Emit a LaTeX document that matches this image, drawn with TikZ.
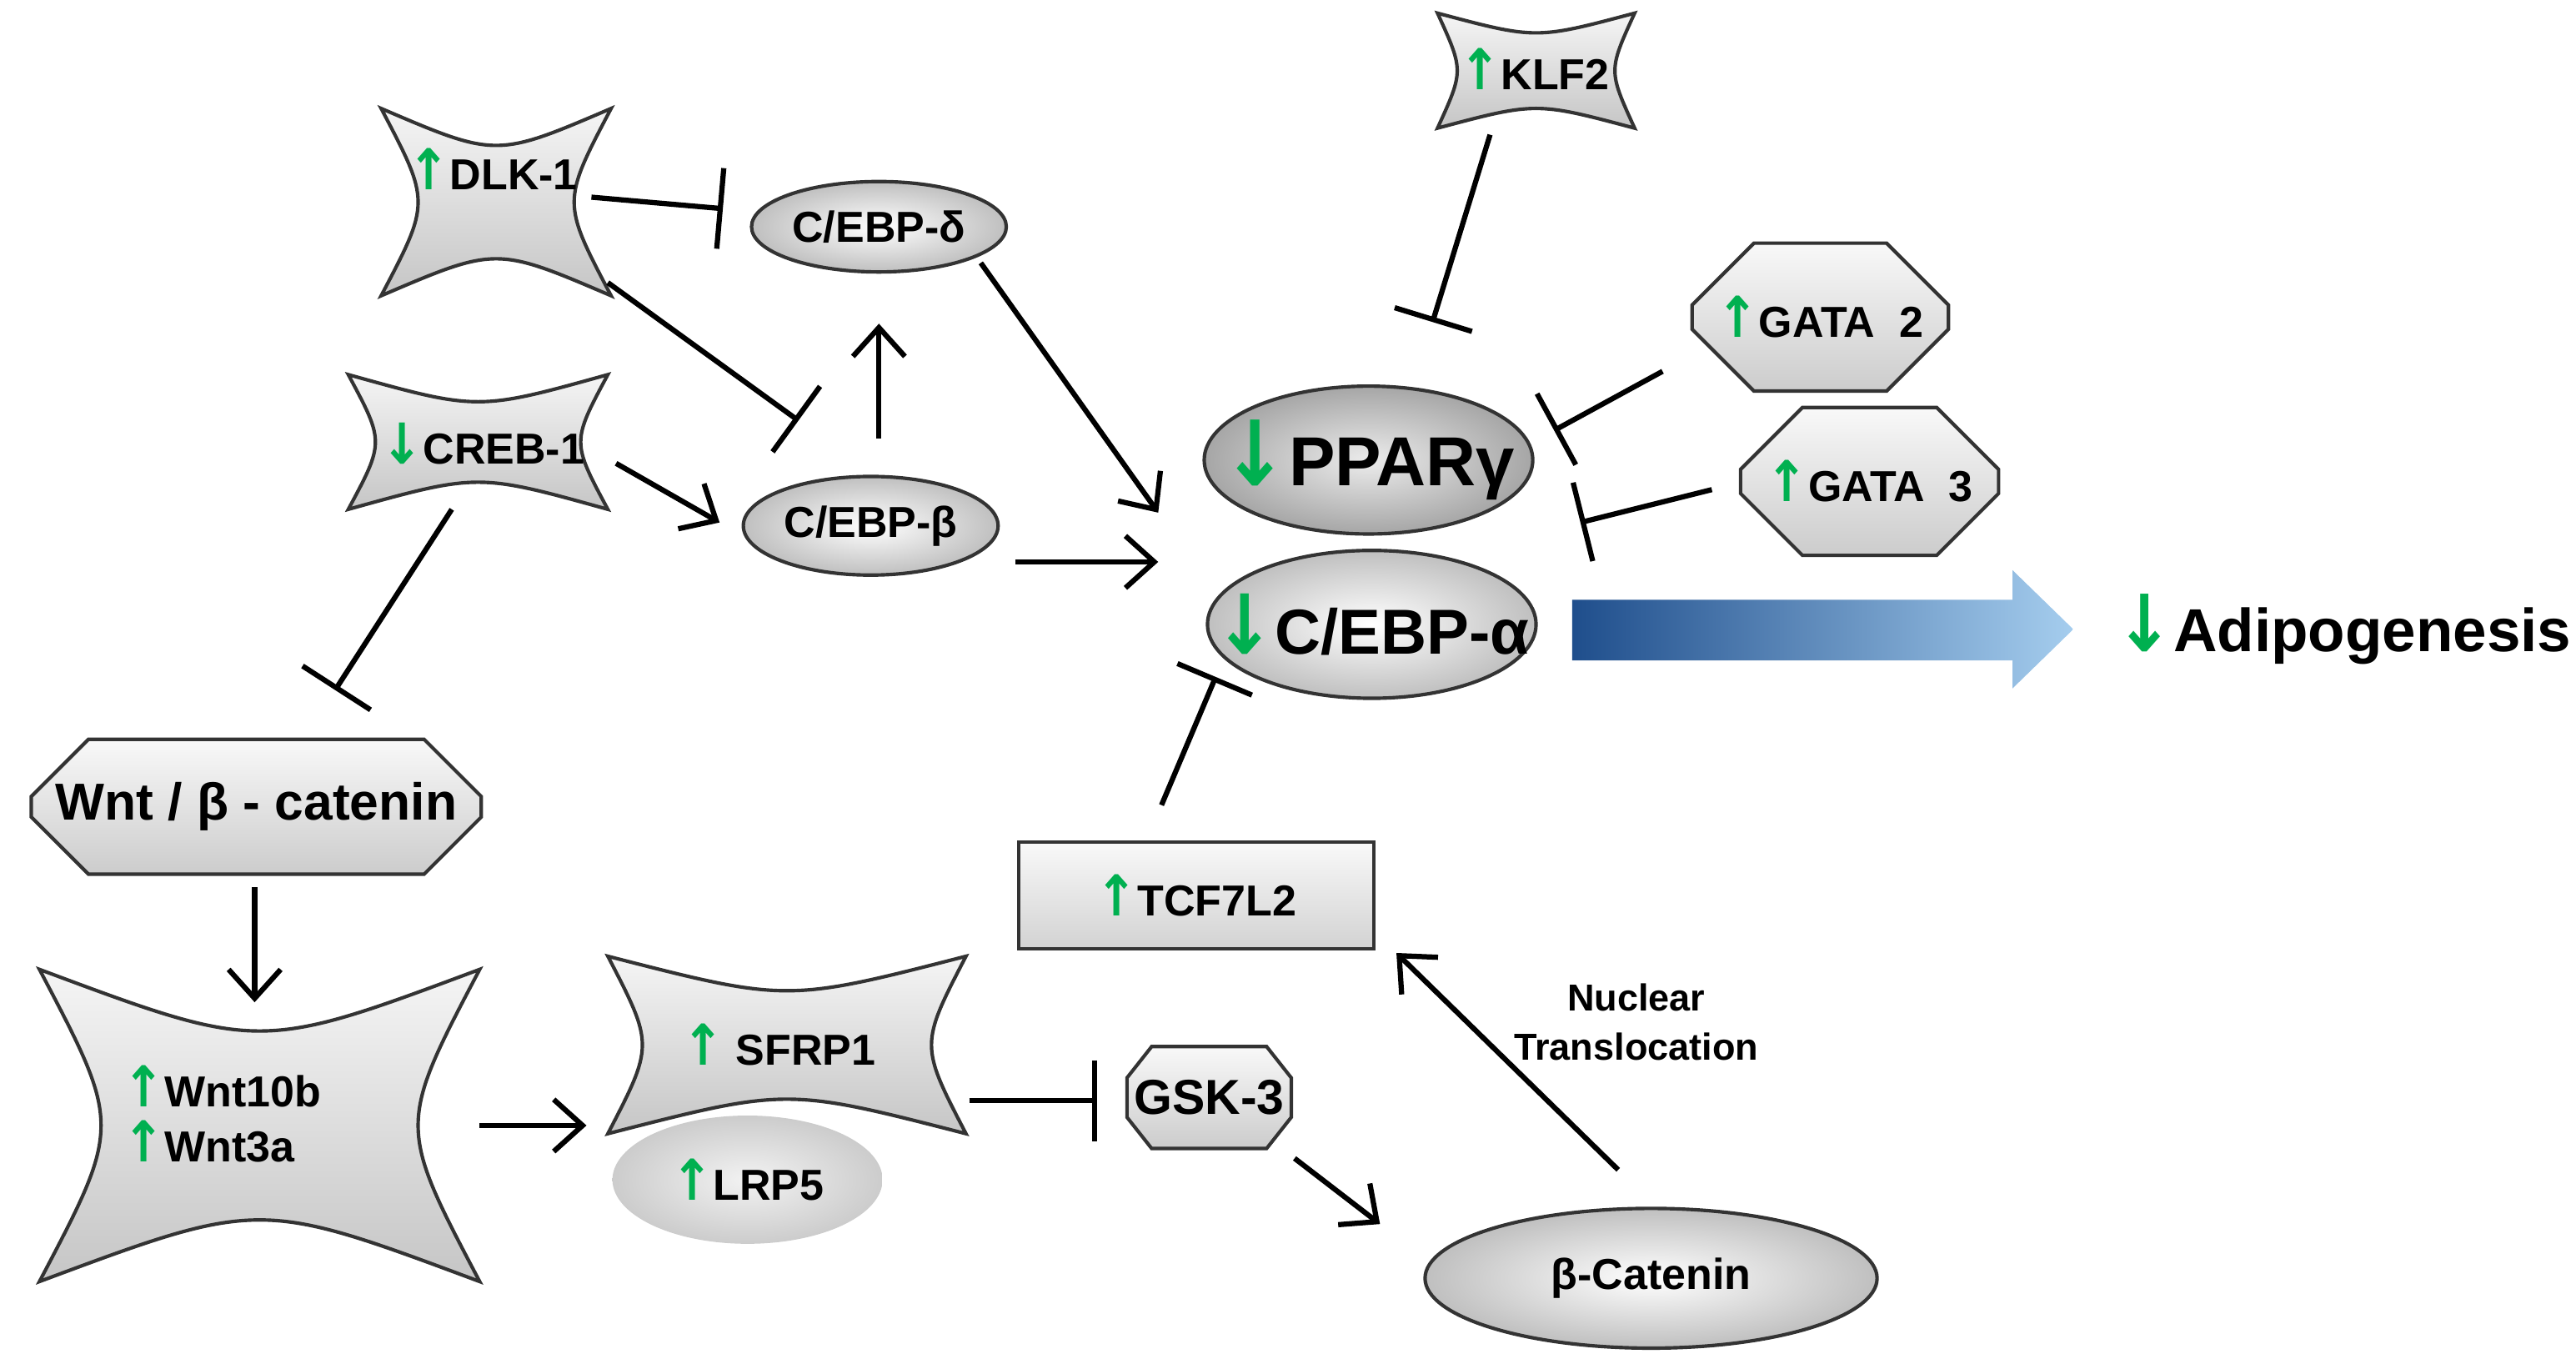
\documentclass[tikz,border=0pt]{standalone}
\usepackage{fontspec}
\setmainfont{Liberation Sans}
\newfontfamily\arrf{DejaVu Sans}
\usetikzlibrary{shapes.geometric,shapes.misc,arrows.meta}
\definecolor{grn}{RGB}{0,176,80}
\definecolor{dblue}{RGB}{31,78,140}
\definecolor{lblue}{RGB}{165,205,238}
\newcommand\up{{\color{grn}\arrf\scalebox{1.15}[1.3]{\char"2191}}}
\newcommand\dn{{\color{grn}\arrf\scalebox{1.15}[1.3]{\char"2193}}}
\newcommand\fs[1]{\fontsize{#1}{#1}\selectfont}
\newcommand\concshape[5]{%
 \draw[conc] (#1,#2) .. controls ({(#1+#3)/2},{#2+#5}) .. (#3,#2)
  .. controls ({#3-#5},{(#2+#4)/2}) .. (#3,#4)
  .. controls ({(#1+#3)/2},{#4-#5}) .. (#1,#4)
  .. controls ({#1+#5},{(#2+#4)/2}) .. cycle;}
\tikzset{
 box/.style={draw=black!80, line width=0.6pt},
 conc/.style={box, top color=gray!8, bottom color=gray!45},
 ell/.style={ellipse, box, inner color=white, outer color=gray!50, inner sep=0pt},
 oct/.style={chamfered rectangle, box, top color=gray!5, bottom color=gray!40, inner sep=0pt},
 ch/.style={chamfered rectangle xsep=#1, chamfered rectangle ysep=#1},
 lab/.style={font=\bfseries\fs{7.5}},
 act/.style={-{Straight Barb[length=5pt,width=9pt]}, line width=0.9pt},
 inh/.style={-{Bar[width=14pt]}, line width=0.9pt},
}
\begin{document}
\begin{tikzpicture}[x=0.01cm,y=-0.01cm]
\useasboundingbox (0,0) rectangle (1568,833);
% concave shapes
\concshape{232}{66}{372}{180}{30}
\node[lab] (dlk) at (300,103) {\up DLK-1};
\concshape{212}{228}{370}{310}{22}
\node[lab] (creb) at (294,270) {\dn CREB-1};
\concshape{875}{8}{995}{78}{16}
\node[lab] (klf) at (934,42) {\up KLF2};
\concshape{370}{582}{588}{690}{28}
\node[lab] (sfrp) at (474,636) {\up\ SFRP1};
\concshape{24}{590}{292}{780}{50}
\node[lab, align=left] (wnt10) at (135,678) {\up Wnt10b\\[2pt]\up Wnt3a};
% LRP5 blob
\node[ellipse, minimum width=1.5cm, minimum height=0.78cm, inner color=gray!10, outer color=gray!40, lab] (lrp) at (455,718) {\up LRP5};
% ellipses
\node[ell, minimum width=1.55cm, minimum height=0.55cm, lab] (cd) at (535,138) {C/EBP-δ};
\node[ell, minimum width=1.55cm, minimum height=0.6cm, lab] (cb) at (530,320) {C/EBP-β};
\draw[box, inner color=gray!15, outer color=gray!70] (833,280) ellipse [x radius=100, y radius=45];
\node[font=\bfseries\fs{12}] (ppar) at (833,280) {\dn PPARγ};
\draw[box, inner color=white, outer color=gray!50] (835,380) ellipse [x radius=100, y radius=45];
\node[font=\bfseries\fs{11}] (ca) at (835,380) {\dn C/EBP-α};
\node[ell, minimum width=2.75cm, minimum height=0.85cm, lab] (bcat) at (1005,778) {β-Catenin};
% octagons
\node[oct, ch=0.25cm, minimum width=1.56cm, minimum height=0.9cm, lab] (g2) at (1108,193) {\up GATA\ \ 2};
\node[oct, ch=0.25cm, minimum width=1.57cm, minimum height=0.9cm, lab] (g3) at (1138,293) {\up GATA\ \ 3};
\node[oct, ch=0.2cm, minimum width=2.72cm, minimum height=0.82cm, font=\bfseries\fs{9}] (wnt) at (156,491) {Wnt / β - catenin};
\draw[oct] (736,668) +(-50,-12) -- +(-35,-31) -- +(35,-31) -- +(50,-12) -- +(50,12) -- +(35,31) -- +(-35,31) -- +(-50,12) -- cycle;
\node[font=\bfseries\fs{8.5}] (gsk) at (736,668) {GSK-3};
\node[rectangle, box, top color=gray!5, bottom color=gray!35, minimum width=2.16cm, minimum height=0.65cm, lab] (tcf) at (728,545) {\up TCF7L2};
% big arrow
\path[left color=dblue, right color=lblue] (957,365) -- (1225,365) -- (1225,347) -- (1262,383) -- (1225,419) -- (1225,402) -- (957,402) -- cycle;
\node[font=\bfseries\fs{10.5}, anchor=west] (adi) at (1275,383) {\dn Adipogenesis};
\node[font=\bfseries\fs{6.5}, align=center] (nt) at (996,622) {Nuclear\\[2pt]Translocation};
% coordinates
\coordinate (a1) at (360,120); \coordinate (a2) at (440,127);
\coordinate (b1) at (370,172); \coordinate (b2) at (486,256);
\coordinate (c1) at (375,282); \coordinate (c2) at (438,318);
\coordinate (d1) at (275,310); \coordinate (d2) at (204,420);
\coordinate (e1) at (535,267); \coordinate (e2) at (535,197);
\coordinate (f1) at (597,160); \coordinate (f2) at (705,312);
\coordinate (h1) at (618,342); \coordinate (h2) at (705,342);
\coordinate (k1) at (907,82); \coordinate (k2) at (872,196);
\coordinate (m1) at (1012,226); \coordinate (m2) at (946,262);
\coordinate (n1) at (1042,298); \coordinate (n2) at (962,318);
\coordinate (p1) at (155,540); \coordinate (p2) at (155,610);
\coordinate (q1) at (292,685); \coordinate (q2) at (357,685);
\coordinate (r1) at (590,670); \coordinate (r2) at (668,670);
\coordinate (s1) at (788,705); \coordinate (s2) at (840,745);
\coordinate (t1) at (985,712); \coordinate (t2) at (850,580);
\coordinate (u1) at (707,490); \coordinate (u2) at (740,412);
\draw[inh] (a1) -- (a2);
\draw[inh] (b1) -- (b2);
\draw[act] (c1) -- (c2);
\draw[inh] (d1) -- (d2);
\draw[act] (e1) -- (e2);
\draw[act] (f1) -- (f2);
\draw[act] (h1) -- (h2);
\draw[inh] (k1) -- (k2);
\draw[inh] (m1) -- (m2);
\draw[inh] (n1) -- (n2);
\draw[act] (p1) -- (p2);
\draw[act] (q1) -- (q2);
\draw[inh] (r1) -- (r2);
\draw[act] (s1) -- (s2);
\draw[act] (t1) -- (t2);
\draw[inh] (u1) -- (u2);
\end{tikzpicture}
\end{document}
